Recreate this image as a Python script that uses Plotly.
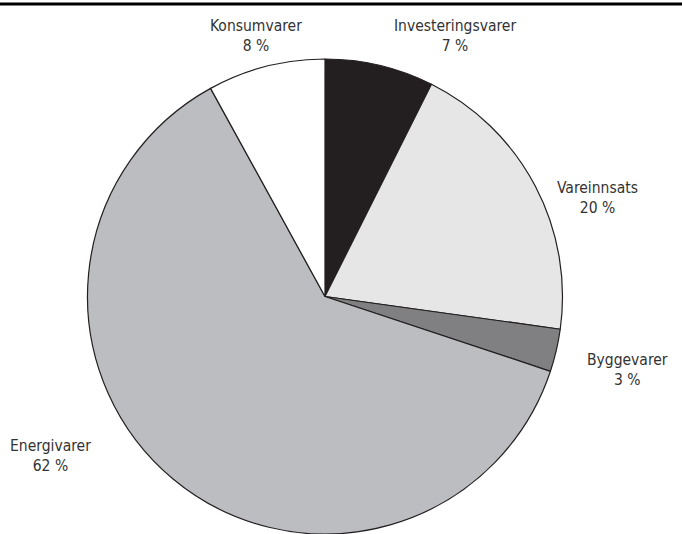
import plotly.graph_objects as go

labels = ["Investeringsvarer", "Vareinnsats", "Byggevarer", "Energivarer", "Konsumvarer"]
values = [7.4, 19.8, 2.9, 61.9, 8.0]
pct_text = ["7 %", "20 %", "3 %", "62 %", "8 %"]
colors = ["#231f20", "#e6e6e7", "#808083", "#bcbdc0", "#ffffff"]

# label anchor positions (pixel centres in 682x534 canvas)
label_px = [(455, 36), (597, 198), (627, 370), (50, 456), (256, 36)]

W, H = 682, 534
fig = go.Figure(go.Pie(
    labels=labels, values=values, sort=False, direction="clockwise", rotation=0,
    marker=dict(colors=colors, line=dict(color="#231f20", width=1.2)),
    textinfo="none", hoverinfo="label+percent", showlegend=False,
    domain=dict(x=[87.5 / W, 562.5 / W], y=[0, (H - 59) / H]),
))

for lab, pt, (px, py) in zip(labels, pct_text, label_px):
    fig.add_annotation(x=px / W, y=1 - py / H, xref="paper", yref="paper",
                       xanchor="center", yanchor="middle",
                       text=f"{lab}<br>{pt}", showarrow=False, align="center",
                       font=dict(family="Liberation Sans Narrow, DejaVu Sans Condensed, sans-serif",
                                 size=15.5, color="#333333"))

fig.add_shape(type="line", xref="paper", yref="paper", x0=0, x1=1, y0=1 - 4 / H, y1=1 - 4 / H,
              line=dict(color="#000000", width=3))

fig.update_layout(width=W, height=H, margin=dict(l=0, r=0, t=0, b=0),
                  paper_bgcolor="white", plot_bgcolor="white")
fig.write_html("out.html", config={"displayModeBar": False},
               post_script="document.body.style.margin='0';")
